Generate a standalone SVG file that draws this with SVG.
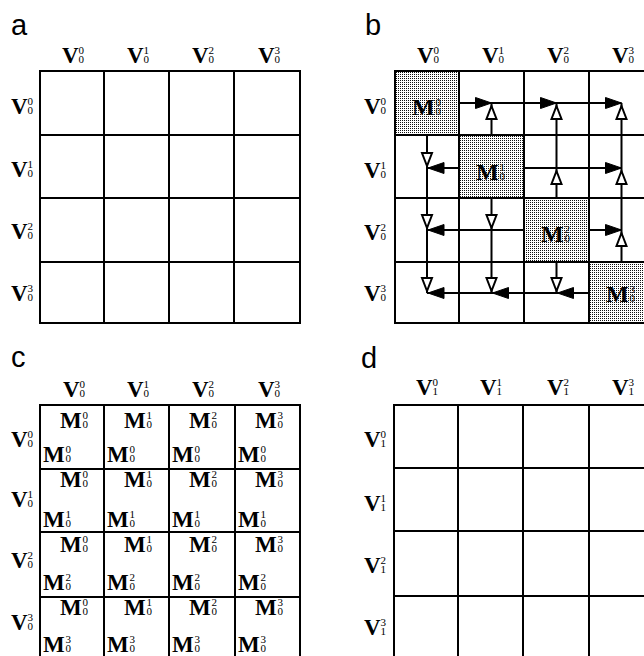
<svg xmlns="http://www.w3.org/2000/svg" xmlns:xlink="http://www.w3.org/1999/xlink" width="644" height="656" viewBox="0 0 644 656">
<style>
.g{fill:none;stroke:#000;stroke-width:2}
.ln{fill:none;stroke:#000;stroke-width:2}
.V{font-family:"Liberation Serif",serif;font-weight:bold;font-size:23px;fill:#000}
.Mb{font-family:"Liberation Serif",serif;font-weight:bold;font-size:24px;fill:#000}
.Mc{font-family:"Liberation Serif",serif;font-weight:bold;font-size:23px;fill:#000}
.d{font-family:"Liberation Serif",serif;font-size:11px;fill:#000}
.lab{font-family:"Liberation Sans",Arial,sans-serif;font-size:29px;fill:#000}
.fh{fill:#000;stroke:#000;stroke-width:1}
.oh{fill:#fff;stroke:#000;stroke-width:2;stroke-linejoin:miter}
</style>
<defs>
<pattern id="stip" width="2" height="2" patternUnits="userSpaceOnUse"><rect width="2" height="2" fill="#fff"/><rect width="1" height="1" fill="#111"/></pattern>
<path id="fr" class="fh" d="M0,0 L-16,-5.5 L-16,5.5 Z"/>
<path id="od" class="oh" d="M0,0 L-5,-13 L5,-13 Z"/>
</defs>
<rect width="644" height="656" fill="#fff"/>

<!-- Panel a -->
<g id="panel-a">
<text class="lab" x="11" y="35">a</text>
<g id="a-grid">
<rect class="g" x="40" y="71" width="260" height="252"/>
<path class="g" d="M104,71V323M169,71V323M234,71V323M40,135H300M40,198H300M40,262H300"/>
</g>
<g id="a-cols">
<text class="V" x="62" y="63">V</text><text class="d" x="78.5" y="54">0</text><text class="d" x="78.5" y="63">0</text>
<text class="V" x="127" y="63">V</text><text class="d" x="143.5" y="54">1</text><text class="d" x="143.5" y="63">0</text>
<text class="V" x="192" y="63">V</text><text class="d" x="208.5" y="54">2</text><text class="d" x="208.5" y="63">0</text>
<text class="V" x="258" y="63">V</text><text class="d" x="274.5" y="54">3</text><text class="d" x="274.5" y="63">0</text>
</g>
<g id="a-rows">
<text class="V" x="11" y="114">V</text><text class="d" x="27.5" y="105">0</text><text class="d" x="27.5" y="114">0</text>
<text class="V" x="11" y="177">V</text><text class="d" x="27.5" y="168">1</text><text class="d" x="27.5" y="177">0</text>
<text class="V" x="11" y="239">V</text><text class="d" x="27.5" y="230">2</text><text class="d" x="27.5" y="239">0</text>
<text class="V" x="11" y="301">V</text><text class="d" x="27.5" y="292">3</text><text class="d" x="27.5" y="301">0</text>
</g>
</g>

<!-- Panel b -->
<g id="panel-b">
<text class="lab" x="365" y="35">b</text>
<g id="b-shade">
<rect x="395" y="71" width="64" height="64" fill="url(#stip)"/>
<rect x="459" y="135" width="65" height="63" fill="url(#stip)"/>
<rect x="524" y="198" width="65" height="64" fill="url(#stip)"/>
<rect x="589" y="262" width="65" height="61" fill="url(#stip)"/>
</g>
<g id="b-grid">
<rect class="g" x="395" y="71" width="260" height="252"/>
<path class="g" d="M459,71V323M524,71V323M589,71V323M395,135H655M395,198H655M395,262H655"/>
</g>
<g id="b-cols">
<text class="V" x="417" y="63">V</text><text class="d" x="433.5" y="54">0</text><text class="d" x="433.5" y="63">0</text>
<text class="V" x="482" y="63">V</text><text class="d" x="498.5" y="54">1</text><text class="d" x="498.5" y="63">0</text>
<text class="V" x="547" y="63">V</text><text class="d" x="563.5" y="54">2</text><text class="d" x="563.5" y="63">0</text>
<text class="V" x="612" y="63">V</text><text class="d" x="628.5" y="54">3</text><text class="d" x="628.5" y="63">0</text>
</g>
<g id="b-rows">
<text class="V" x="364" y="114">V</text><text class="d" x="380.5" y="105">0</text><text class="d" x="380.5" y="114">0</text>
<text class="V" x="364" y="178">V</text><text class="d" x="380.5" y="169">1</text><text class="d" x="380.5" y="178">0</text>
<text class="V" x="364" y="240">V</text><text class="d" x="380.5" y="231">2</text><text class="d" x="380.5" y="240">0</text>
<text class="V" x="364" y="301">V</text><text class="d" x="380.5" y="292">3</text><text class="d" x="380.5" y="301">0</text>
</g>
<g id="b-M0"><text class="Mb" x="412" y="115">M</text><text class="d" x="435.5" y="106">0</text><text class="d" x="435.5" y="115">0</text></g>
<g id="b-M1"><text class="Mb" x="476" y="180">M</text><text class="d" x="499.5" y="171">1</text><text class="d" x="499.5" y="180">0</text></g>
<g id="b-M2"><text class="Mb" x="541" y="242">M</text><text class="d" x="564.5" y="233">2</text><text class="d" x="564.5" y="242">0</text></g>
<g id="b-M3"><text class="Mb" x="606" y="302">M</text><text class="d" x="629.5" y="293">3</text><text class="d" x="629.5" y="302">0</text></g>
</g>

<g id="connectors">
<path class="ln" d="M459,103H621.5M524,168H621.5M589,230H621.5M459,168H427M524,230H427M589,293H427"/>
<path class="ln" d="M427,135V293M491.5,198V293M556.5,262V293M491.5,135V103M556.5,198V103M621.5,262V103"/>
<use xlink:href="#fr" transform="translate(491.5,103)"/>
<use xlink:href="#fr" transform="translate(556.5,103)"/>
<use xlink:href="#fr" transform="translate(621.5,103)"/>
<use xlink:href="#fr" transform="translate(621.5,168)"/>
<use xlink:href="#fr" transform="translate(621.5,230)"/>
<use xlink:href="#fr" transform="translate(428,168) rotate(180)"/>
<use xlink:href="#fr" transform="translate(428,230) rotate(180)"/>
<use xlink:href="#fr" transform="translate(428,293) rotate(180)"/>
<use xlink:href="#fr" transform="translate(492.5,293) rotate(180)"/>
<use xlink:href="#fr" transform="translate(557.5,293) rotate(180)"/>
<use xlink:href="#od" transform="translate(491.5,106) rotate(180)"/>
<use xlink:href="#od" transform="translate(556.5,106) rotate(180)"/>
<use xlink:href="#od" transform="translate(556.5,171) rotate(180)"/>
<use xlink:href="#od" transform="translate(621.5,106) rotate(180)"/>
<use xlink:href="#od" transform="translate(621.5,171) rotate(180)"/>
<use xlink:href="#od" transform="translate(621.5,233) rotate(180)"/>
<use xlink:href="#od" transform="translate(427,166)"/>
<use xlink:href="#od" transform="translate(427,228)"/>
<use xlink:href="#od" transform="translate(427,291)"/>
<use xlink:href="#od" transform="translate(491.5,228)"/>
<use xlink:href="#od" transform="translate(491.5,291)"/>
<use xlink:href="#od" transform="translate(556.5,291)"/>
</g>

<!-- Panel c -->
<g id="panel-c">
<text class="lab" x="11" y="367">c</text>
<g id="c-grid">
<rect class="g" x="40" y="405" width="260" height="256"/>
<path class="g" d="M104,405V661M169,405V661M235,405V661M40,469H300M40,532H300M40,597H300"/>
</g>
<g id="c-cols">
<text class="V" x="63" y="397">V</text><text class="d" x="79.5" y="388">0</text><text class="d" x="79.5" y="397">0</text>
<text class="V" x="127" y="397">V</text><text class="d" x="143.5" y="388">1</text><text class="d" x="143.5" y="397">0</text>
<text class="V" x="192" y="397">V</text><text class="d" x="208.5" y="388">2</text><text class="d" x="208.5" y="397">0</text>
<text class="V" x="258" y="397">V</text><text class="d" x="274.5" y="388">3</text><text class="d" x="274.5" y="397">0</text>
</g>
<g id="c-rows">
<text class="V" x="11" y="447">V</text><text class="d" x="27.5" y="438">0</text><text class="d" x="27.5" y="447">0</text>
<text class="V" x="11" y="507">V</text><text class="d" x="27.5" y="498">1</text><text class="d" x="27.5" y="507">0</text>
<text class="V" x="11" y="568">V</text><text class="d" x="27.5" y="559">2</text><text class="d" x="27.5" y="568">0</text>
<text class="V" x="11" y="630">V</text><text class="d" x="27.5" y="621">3</text><text class="d" x="27.5" y="630">0</text>
</g>
<g id="c-cells">
<!-- row 0 -->
<text class="Mc" x="60" y="428">M</text><text class="d" x="82.5" y="419">0</text><text class="d" x="82.5" y="428">0</text>
<text class="Mc" x="43" y="462">M</text><text class="d" x="65.5" y="453">0</text><text class="d" x="65.5" y="462">0</text>
<text class="Mc" x="124" y="428">M</text><text class="d" x="146.5" y="419">1</text><text class="d" x="146.5" y="428">0</text>
<text class="Mc" x="107" y="462">M</text><text class="d" x="129.5" y="453">0</text><text class="d" x="129.5" y="462">0</text>
<text class="Mc" x="189" y="428">M</text><text class="d" x="211.5" y="419">2</text><text class="d" x="211.5" y="428">0</text>
<text class="Mc" x="172" y="462">M</text><text class="d" x="194.5" y="453">0</text><text class="d" x="194.5" y="462">0</text>
<text class="Mc" x="255" y="428">M</text><text class="d" x="277.5" y="419">3</text><text class="d" x="277.5" y="428">0</text>
<text class="Mc" x="238" y="462">M</text><text class="d" x="260.5" y="453">0</text><text class="d" x="260.5" y="462">0</text>
<!-- row 1 -->
<text class="Mc" x="60" y="487">M</text><text class="d" x="82.5" y="478">0</text><text class="d" x="82.5" y="487">0</text>
<text class="Mc" x="43" y="527">M</text><text class="d" x="65.5" y="518">1</text><text class="d" x="65.5" y="527">0</text>
<text class="Mc" x="124" y="487">M</text><text class="d" x="146.5" y="478">1</text><text class="d" x="146.5" y="487">0</text>
<text class="Mc" x="107" y="527">M</text><text class="d" x="129.5" y="518">1</text><text class="d" x="129.5" y="527">0</text>
<text class="Mc" x="189" y="487">M</text><text class="d" x="211.5" y="478">2</text><text class="d" x="211.5" y="487">0</text>
<text class="Mc" x="172" y="527">M</text><text class="d" x="194.5" y="518">1</text><text class="d" x="194.5" y="527">0</text>
<text class="Mc" x="255" y="487">M</text><text class="d" x="277.5" y="478">3</text><text class="d" x="277.5" y="487">0</text>
<text class="Mc" x="238" y="527">M</text><text class="d" x="260.5" y="518">1</text><text class="d" x="260.5" y="527">0</text>
<!-- row 2 -->
<text class="Mc" x="60" y="552">M</text><text class="d" x="82.5" y="543">0</text><text class="d" x="82.5" y="552">0</text>
<text class="Mc" x="43" y="590">M</text><text class="d" x="65.5" y="581">2</text><text class="d" x="65.5" y="590">0</text>
<text class="Mc" x="124" y="552">M</text><text class="d" x="146.5" y="543">1</text><text class="d" x="146.5" y="552">0</text>
<text class="Mc" x="107" y="590">M</text><text class="d" x="129.5" y="581">2</text><text class="d" x="129.5" y="590">0</text>
<text class="Mc" x="189" y="552">M</text><text class="d" x="211.5" y="543">2</text><text class="d" x="211.5" y="552">0</text>
<text class="Mc" x="172" y="590">M</text><text class="d" x="194.5" y="581">2</text><text class="d" x="194.5" y="590">0</text>
<text class="Mc" x="255" y="552">M</text><text class="d" x="277.5" y="543">3</text><text class="d" x="277.5" y="552">0</text>
<text class="Mc" x="238" y="590">M</text><text class="d" x="260.5" y="581">2</text><text class="d" x="260.5" y="590">0</text>
<!-- row 3 -->
<text class="Mc" x="60" y="615">M</text><text class="d" x="82.5" y="606">0</text><text class="d" x="82.5" y="615">0</text>
<text class="Mc" x="43" y="652">M</text><text class="d" x="65.5" y="643">3</text><text class="d" x="65.5" y="652">0</text>
<text class="Mc" x="124" y="615">M</text><text class="d" x="146.5" y="606">1</text><text class="d" x="146.5" y="615">0</text>
<text class="Mc" x="107" y="652">M</text><text class="d" x="129.5" y="643">3</text><text class="d" x="129.5" y="652">0</text>
<text class="Mc" x="189" y="615">M</text><text class="d" x="211.5" y="606">2</text><text class="d" x="211.5" y="615">0</text>
<text class="Mc" x="172" y="652">M</text><text class="d" x="194.5" y="643">3</text><text class="d" x="194.5" y="652">0</text>
<text class="Mc" x="255" y="615">M</text><text class="d" x="277.5" y="606">3</text><text class="d" x="277.5" y="615">0</text>
<text class="Mc" x="238" y="652">M</text><text class="d" x="260.5" y="643">3</text><text class="d" x="260.5" y="652">0</text>
</g>
</g>

<!-- Panel d -->
<g id="panel-d">
<text class="lab" x="361" y="368">d</text>
<g id="d-grid">
<rect class="g" x="394" y="405" width="260" height="256"/>
<path class="g" d="M458,405V661M523,405V661M589,405V661M394,468H654M394,531H654M394,596H654"/>
</g>
<g id="d-cols">
<text class="V" x="416" y="395">V</text><text class="d" x="432.5" y="386">0</text><text class="d" x="432.5" y="395">1</text>
<text class="V" x="480" y="395">V</text><text class="d" x="496.5" y="386">1</text><text class="d" x="496.5" y="395">1</text>
<text class="V" x="547" y="395">V</text><text class="d" x="563.5" y="386">2</text><text class="d" x="563.5" y="395">1</text>
<text class="V" x="612" y="395">V</text><text class="d" x="628.5" y="386">3</text><text class="d" x="628.5" y="395">1</text>
</g>
<g id="d-rows">
<text class="V" x="364" y="447">V</text><text class="d" x="380.5" y="438">0</text><text class="d" x="380.5" y="447">1</text>
<text class="V" x="364" y="511">V</text><text class="d" x="380.5" y="502">1</text><text class="d" x="380.5" y="511">1</text>
<text class="V" x="364" y="573">V</text><text class="d" x="380.5" y="564">2</text><text class="d" x="380.5" y="573">1</text>
<text class="V" x="364" y="635">V</text><text class="d" x="380.5" y="626">3</text><text class="d" x="380.5" y="635">1</text>
</g>
</g>
</svg>
